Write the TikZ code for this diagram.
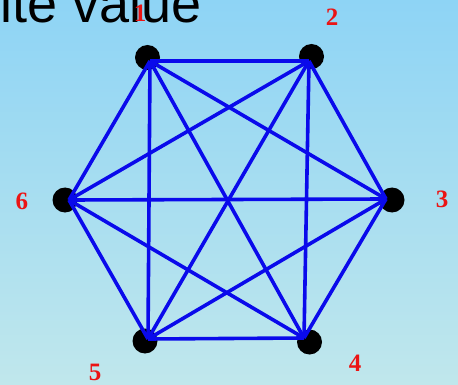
\documentclass[tikz,border=0pt]{standalone}
\usepackage{fontspec}
\setmainfont{Liberation Serif}
\newfontfamily\headfont{Liberation Sans}
\definecolor{skytop}{RGB}{142,212,245}
\definecolor{skybottom}{RGB}{192,231,236}
\definecolor{edgeblue}{RGB}{10,10,235}
\definecolor{labelred}{RGB}{235,20,20}
\tikzset{
  vertex/.style={circle, fill=black, inner sep=0pt, minimum size=25pt},
  edge/.style={edgeblue, line width=3.6pt},
  num/.style={text=labelred, font=\bfseries\fontsize{25}{25}\selectfont, inner sep=0pt}
}
\begin{document}
\begin{tikzpicture}[x=1pt,y=-1pt]
\useasboundingbox (0,0) rectangle (458,385);
\clip (0,0) rectangle (458,385);
\shade[top color=skytop, bottom color=skybottom] (0,0) rectangle (458,385);
\node[anchor=base west, inner sep=0pt, font=\headfont\fontsize{54}{54}\selectfont] (title) at (0,22.7) {ite value};
\foreach \n/\x/\y/\a/\b/\lx/\ly in {1/147.5/57.5/150/61/140/13, 2/311.5/56.5/309/61/332/17, 3/392/200/386/199/442/199, 4/309.5/342/304/338/355/363, 5/145/341/148/339/95/372, 6/65/200/69/200/22/201}
{
	\node[vertex] (v\n) at (\x,\y) {};
	\coordinate (p\n) at (\a,\b);
	\node[num] (l\n) at (\lx,\ly) {\n};
}
\foreach \i in {1,...,5}
{
	\pgfmathtruncatemacro\k{\i+1}
	\foreach \j in {\k,...,6}
	{
		\draw[edge] (p\i) -- (p\j);
	}
}
\end{tikzpicture}
\end{document}
